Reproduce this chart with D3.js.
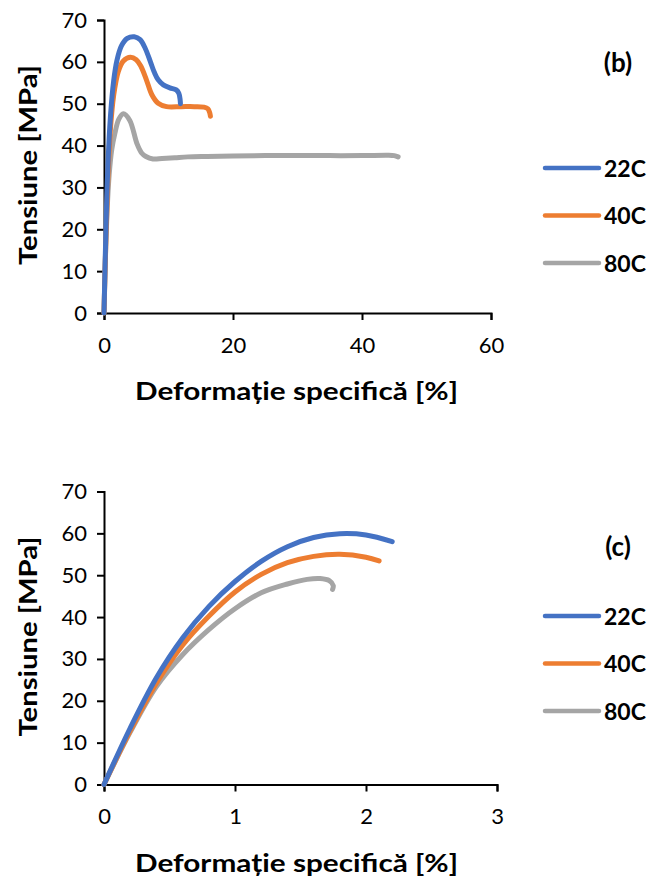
<!DOCTYPE html>
<html>
<head>
<meta charset="utf-8">
<script src="https://cdn.jsdelivr.net/npm/d3@7"></script>
<style>
  body { margin: 0; background: #fff; }
  text { font-family: Lato, "Open Sans", sans-serif; fill: #000; }
</style>
</head>
<body>
<div id="plot"></div>
<script>
// series names and colours
var seriesNames = ["22C", "40C", "80C"];
var seriesColors = ["#4472C4", "#ED7D31", "#A5A5A5"];

// panel (b): strain [%], stress [MPa]
var b22 = [[0,0],[0.3,20],[0.6,35],[1,47],[1.5,55.5],[2,60.3],[2.7,63.8],[3.6,65.6],[4.7,66],[5.6,65.3],[6.4,63.2],[7.2,60],[7.8,57.5],[8.4,55.7],[9.2,54.5],[10.2,53.8],[11.2,53.3],[11.6,52.5],[11.8,51],[11.85,50]];
var b40 = [[0,0],[0.3,18],[0.6,32],[1,44],[1.5,52],[2.2,57.6],[3,60.2],[4.1,61.1],[5,60.5],[5.7,59],[6.6,55.6],[7.4,52.2],[8.4,50.1],[9.7,49.3],[12,49.3],[14,49.3],[15.5,49.2],[16.1,48.8],[16.4,47.8],[16.5,47]];
var b80 = [[0,0],[0.2,12],[0.5,25],[0.8,33],[1.2,39],[1.7,43],[2.3,46.3],[3,47.6],[4,46],[5.1,40.5],[5.8,38.3],[6.5,37.4],[7.6,36.8],[9,36.9],[11,37.1],[13,37.3],[16,37.4],[20,37.5],[25,37.6],[30,37.6],[35,37.6],[40,37.6],[44,37.7],[45,37.6],[45.6,37.3]];

// panel (c)
var c22 = [[0,0],[0.2,13.5],[0.4,25.5],[0.6,35],[0.8,42.5],[1.0,48.5],[1.2,53.3],[1.4,56.8],[1.6,59],[1.8,59.9],[2.0,59.6],[2.2,58]];
var c40 = [[0,0],[0.2,12.8],[0.4,24.2],[0.6,33.3],[0.8,40.2],[1.0,46],[1.2,50.2],[1.4,53],[1.6,54.5],[1.8,55],[2.0,54.3],[2.1,53.4]];
var c80 = [[0,0],[0.2,12.5],[0.4,23.4],[0.6,31],[0.8,37],[1.0,42],[1.2,45.8],[1.4,47.9],[1.55,49],[1.65,49.2],[1.72,48.7],[1.75,47.5],[1.745,46.6]];

var yTicks = [0, 10, 20, 30, 40, 50, 60, 70];
var bXTicks = [0, 20, 40, 60];
var cXTicks = [0, 1, 2, 3];

var svg = d3.select("#plot").append("svg")
    .attr("width", 649)
    .attr("height", 882);

function drawPanel(opts) {
    var x = d3.scaleLinear().domain(opts.xDomain).range([104, opts.xRight]);
    var y = d3.scaleLinear().domain([0, 70]).range([opts.yBottom, opts.yBottom - 293]);
    var g = svg.append("g");

    // x axis
    var xa = g.append("g")
        .attr("transform", "translate(0," + opts.yBottom + ")")
        .call(d3.axisBottom(x).tickValues(opts.xTicks).tickSize(7).tickPadding(17).tickFormat(d3.format("d")));
    // y axis
    var ya = g.append("g")
        .attr("transform", "translate(104,0)")
        .call(d3.axisLeft(y).tickValues(yTicks).tickSize(7).tickPadding(10));
    [xa, ya].forEach(function(a) {
        a.select(".domain").attr("stroke", "#000").attr("stroke-width", 2);
        a.selectAll(".tick line").attr("stroke", "#000").attr("stroke-width", 2);
        a.selectAll(".tick text").style("font-size", "22px").attr("fill", "#000");
    });

    // curves
    var line = d3.line()
        .x(function(d) { return x(d[0]); })
        .y(function(d) { return y(d[1]); })
        .curve(d3.curveCatmullRom.alpha(0.5));
    opts.series.slice().reverse().forEach(function(s, i) {
        var k = opts.series.length - 1 - i;
        g.append("path")
            .datum(s)
            .attr("fill", "none")
            .attr("stroke", seriesColors[k])
            .attr("stroke-width", 5)
            .attr("stroke-linecap", "round")
            .attr("stroke-linejoin", "round")
            .attr("d", line);
    });

    // axis titles
    g.append("text")
        .attr("x", 296.5)
        .attr("y", opts.yBottom + 87)
        .attr("text-anchor", "middle")
        .attr("textLength", 323)
        .attr("lengthAdjust", "spacingAndGlyphs")
        .style("font-size", "25px")
        .style("font-weight", "bold")
        .text("Deformație specifică [%]");
    g.append("text")
        .attr("transform", "translate(37," + (opts.yBottom - 148) + ") rotate(-90)")
        .attr("text-anchor", "middle")
        .attr("textLength", 200)
        .attr("lengthAdjust", "spacingAndGlyphs")
        .style("font-size", "25px")
        .style("font-weight", "bold")
        .text("Tensiune [MPa]");

    // panel letter
    g.append("text")
        .attr("x", 618)
        .attr("y", opts.letterY)
        .attr("text-anchor", "middle")
        .style("font-size", "26px")
        .style("font-weight", "bold")
        .text(opts.letter);

    // legend
    seriesNames.forEach(function(n, i) {
        var ly = opts.legendTop + i * 47.5;
        g.append("line")
            .attr("x1", 545).attr("x2", 599)
            .attr("y1", ly).attr("y2", ly)
            .attr("stroke", seriesColors[i])
            .attr("stroke-width", 4.5)
            .attr("stroke-linecap", "round");
        g.append("text")
            .attr("x", 604)
            .attr("y", ly + 8.5)
            .style("font-size", "23px")
            .style("font-weight", "bold")
            .text(n);
    });
}

drawPanel({xDomain: [0, 60], xRight: 491, xTicks: bXTicks, yBottom: 313,
    series: [b22, b40, b80], letter: "(b)", letterY: 72, legendTop: 168});
drawPanel({xDomain: [0, 3], xRight: 497, xTicks: cXTicks, yBottom: 784.5,
    series: [c22, c40, c80], letter: "(c)", letterY: 556, legendTop: 616});
</script>
</body>
</html>
